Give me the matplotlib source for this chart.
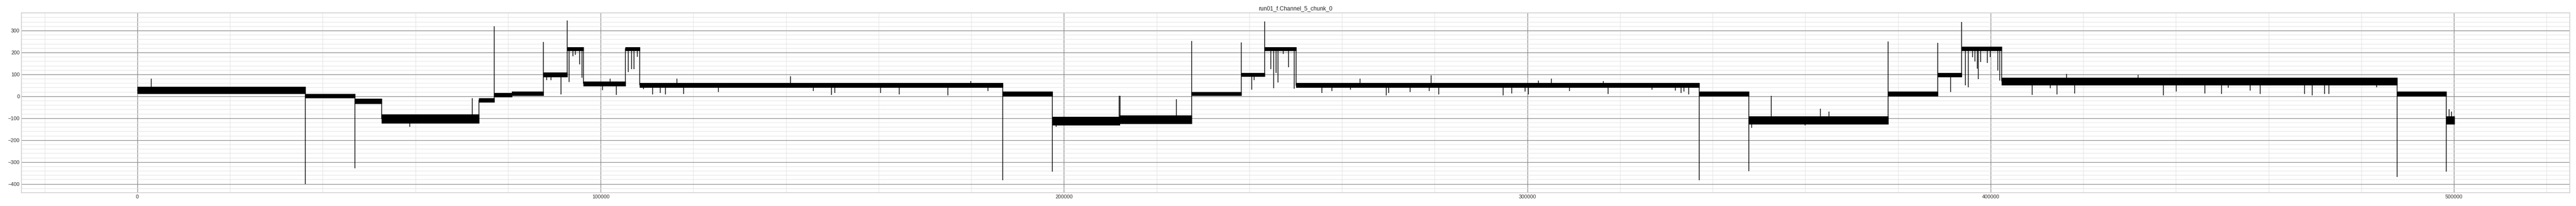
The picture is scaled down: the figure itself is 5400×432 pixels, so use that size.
import numpy as np
import matplotlib.pyplot as plt
import seaborn as sns
from matplotlib.ticker import MultipleLocator

# signal levels: segment start/end sample, band low/high
seg_start = [0, 36250, 47000, 52700, 73700, 77000, 80800, 87650, 92800, 96260,
             105330, 108480, 186830, 197480, 212000, 227550, 238260, 243320,
             250090, 337130, 347840, 377850, 388560, 393680, 402350, 487700,
             498330]
seg_end = [36250, 47000, 52700, 73700, 77000, 80800, 87650, 92800, 96260,
           105330, 108480, 186830, 197480, 212000, 227550, 238260, 243320,
           250090, 337130, 347840, 377850, 388560, 393680, 402350, 487700,
           498330, 500080]
seg_lo = [13, -6, -33, -123, -26, -3, 3, 90, 208, 47, 208, 42, 2, -130, -124,
          4, 91, 208, 40, 2, -127, 2, 90, 208, 53, 2, -127]
seg_hi = [43, 11, -11, -83, -8, 15, 22, 108, 225, 68, 225, 61, 22, -93, -88,
          20, 107, 225, 61, 21, -91, 21, 106, 226, 85, 22, -91]

# single-sample spikes / dropouts (sample index, value)
spike_x = [3020, 36250, 47000, 58790, 72250, 77000, 87650, 88350, 89270, 91450,
           92800, 93230, 94030, 94490, 95470, 96000, 100400, 102100, 103360,
           105990, 106640, 107160, 107950, 109270, 111240, 112880, 114000,
           116430, 117940, 125420, 141000, 145920, 149790, 150590, 160440,
           164450, 174950, 179880, 183570, 186830, 197480, 198310, 211900,
           212100, 224220, 227550, 238260, 240580, 241040, 243320, 244650,
           245300, 245830, 246160, 247280, 248460, 249710, 255620, 257780,
           261860, 263890, 269540, 270060, 274660, 278800, 279200, 280850,
           294770, 296610, 299570, 300220, 302390, 305150, 309090, 316450,
           317440, 326960, 331950, 333200, 333860, 334840, 337130, 347840,
           348430, 352640, 360000, 363210, 365120, 377850, 388560, 391400,
           393680, 394550, 395150, 396130, 396660, 397120, 397380, 397840,
           399290, 399950, 401590, 401990, 408950, 412890, 414330, 416380,
           418140, 431840, 437260, 440020, 446250, 449800, 451310, 455970,
           458210, 467730, 469440, 472070, 472990, 483260, 487700, 498330,
           498970, 499490]
spike_y = [81, -401, -330, -140, -8, 320, 248, 74, 74, 9,
           346, 65, 183, 190, 146, 85, 29, 80, 7,
           110, 123, 123, 181, 33, 9, 14, 9,
           80, 11, 20, 92, 23, 7, 14, 16,
           9, 4, 69, 23, -383, -345, -140, 2,
           2, -13, 253, 246, 30, 74, 342, 123,
           36, 106, 62, 193, 132, 34, 16, 23,
           30, 81, 5, 14, 20, 23, 96, 9,
           5, 12, 21, 9, 72, 80, 23, 70,
           10, 30, 25, 14, 21, 9, -383, -343,
           -143, 2, -133, -57, -71, 250, 244, 20,
           340, 49, 41, 179, 159, 127, 78, 156,
           152, 179, 117, 72, 7, 36, 8, 101,
           12, 97, 4, 21, 12, 11, 38, 25,
           10, 10, 5, 10, 11, 41, -368, -344,
           -60, -71]

title = 'run01_f.Channel_5_chunk_0'

sns.set_style('whitegrid')
plt.rcParams['font.family'] = ['Liberation Sans', 'DejaVu Sans']

fig = plt.figure(figsize=(75, 6), dpi=72)
ax = fig.add_axes([0.00833, 0.0648, 0.98926, 0.872])

seg_mid = (np.array(seg_lo) + np.array(seg_hi)) / 2.0

# noise band of each level
for s, e, lo, hi in zip(seg_start, seg_end, seg_lo, seg_hi):
    ax.fill_between([s, e], [lo, lo], [hi, hi], color='black', lw=1.2,
                    edgecolor='black', zorder=3)

# step path joining the levels
ax.plot(seg_start + [seg_end[-1]], list(seg_mid) + [seg_mid[-1]],
        drawstyle='steps-post', color='black', lw=1.5, zorder=3)

# spikes from the local level
idx = np.searchsorted(seg_start, spike_x, side='right') - 1
idx = np.clip(idx, 0, len(seg_start) - 1)
ax.vlines(spike_x, seg_mid[idx], spike_y, color='black', lw=1.5, zorder=3)

ax.set_xlim(-25000, 525000)
ax.set_ylim(-440, 380)
ax.xaxis.set_major_locator(MultipleLocator(100000))
ax.xaxis.set_minor_locator(MultipleLocator(20000))
ax.yaxis.set_major_locator(MultipleLocator(100))
ax.yaxis.set_minor_locator(MultipleLocator(20))
ax.grid(which='major', color='#808080', lw=1.2)
ax.grid(which='minor', color='#e3e3e3', lw=1.0)
ax.set_axisbelow(True)
ax.tick_params(which='both', length=0, labelsize=11, colors='#333333')
for sp in ax.spines.values():
    sp.set_color('#cccccc')
    sp.set_linewidth(1.5)
ax.set_title(title, fontsize=12, color='#262626')

plt.savefig('out.png', dpi=72)
